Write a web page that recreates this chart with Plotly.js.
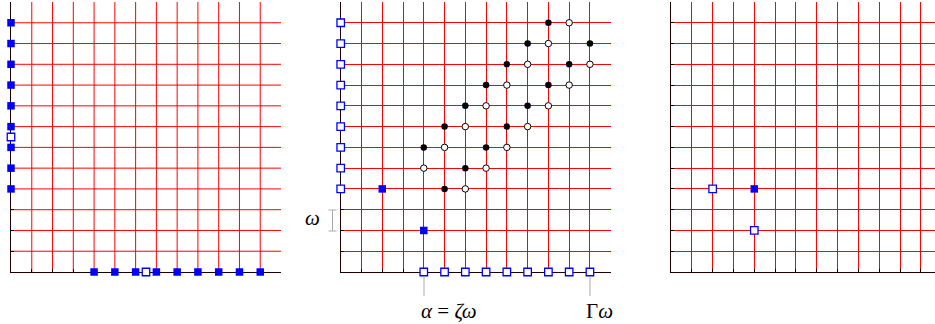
<!DOCTYPE html>
<html>
<head>
<meta charset="utf-8">
<script src="https://cdn.plot.ly/plotly-3.0.1.min.js"></script>
<style>
html,body{margin:0;padding:0;background:#fff;}
#chart{width:935px;height:324px;}
.js-plotly-plot .plotly path.xgrid, .js-plotly-plot .plotly path.ygrid {shape-rendering: geometricPrecision !important;}
</style>
</head>
<body>
<div id="chart"></div>
<script>
// ---------- data ----------
// Panel 1
const p1FilledX = [0,0,0,0,0,0,0,0,0, 4,5,6,7,8,9,10,11,12];
const p1FilledY = [12,11,10,9,8,7,6,5,4, 0,0,0,0,0,0,0,0,0];
const p1HollowX = [0, 6.5];
const p1HollowY = [6.5, 0];

// Panel 2
const p2HollowSqX = [0,0,0,0,0,0,0,0,0, 4,5,6,7,8,9,10,11,12];
const p2HollowSqY = [4,5,6,7,8,9,10,11,12, 0,0,0,0,0,0,0,0,0];
const p2FilledSqX = [2, 4];
const p2FilledSqY = [4, 2];
const p2BlackX = [10, 9, 12, 8, 11, 7, 10, 6, 9, 5, 8, 4, 7, 6, 5];
const p2BlackY = [12, 11, 11, 10, 10, 9, 9, 8, 8, 7, 7, 6, 6, 5, 4];
const p2WhiteX = [11, 10, 9, 12, 8, 11, 7, 10, 6, 9, 5, 8, 4, 7, 6];
const p2WhiteY = [12, 11, 10, 10, 9, 9, 8, 8, 7, 7, 6, 6, 5, 5, 4];

// Panel 3
const p3HollowX = [2, 4];
const p3HollowY = [4, 2];
const p3FilledX = [4];
const p3FilledY = [4];

const tickVals = [0,1,2,3,4,5,6,7,8,9,10,11,12];
const labelAlpha = '<i>α</i> = <i>ζω</i>';
const labelGamma = 'Γ<i>ω</i>';
const labelOmega = '<i>ω</i>';

// ---------- styles ----------
const W = 935, H = 324;
const px = v => v / W;
const py = v => 1 - v / H;
const BLUE = '#0000ff';
const sqFilled = {symbol: 'square', size: 7.5, color: BLUE, line: {width: 0}};
const sqHollow = {symbol: 'square', size: 7.5, color: '#ffffff', line: {width: 1.3, color: BLUE}};
const dotBlack = {symbol: 'circle', size: 6.5, color: '#000000', line: {width: 0}};
const dotWhite = {symbol: 'circle', size: 6.5, color: '#ffffff', line: {width: 1, color: '#000000'}};

function tr(x, y, marker, xa, ya) {
  return {type: 'scatter', mode: 'markers', x: x, y: y, marker: marker,
          xaxis: xa, yaxis: ya, cliponaxis: false, hoverinfo: 'skip'};
}

const data = [
  tr(p1FilledX, p1FilledY, sqFilled, 'x', 'y'),
  tr(p1HollowX, p1HollowY, sqHollow, 'x', 'y'),
  tr(p2HollowSqX, p2HollowSqY, sqHollow, 'x2', 'y2'),
  tr(p2FilledSqX, p2FilledSqY, sqFilled, 'x2', 'y2'),
  tr(p2BlackX, p2BlackY, dotBlack, 'x2', 'y2'),
  tr(p2WhiteX, p2WhiteY, dotWhite, 'x2', 'y2'),
  tr(p3HollowX, p3HollowY, sqHollow, 'x3', 'y3'),
  tr(p3FilledX, p3FilledY, sqFilled, 'x3', 'y3')
];

function ax(domain, range, anchor) {
  return {
    domain: domain, range: range, anchor: anchor,
    tickmode: 'array', tickvals: tickVals, showticklabels: false,
    ticks: 'inside', ticklen: 3, tickwidth: 1, tickcolor: '#000',
    showgrid: true, gridcolor: '#ff0000', gridwidth: 1,
    zeroline: false, showline: true, linecolor: '#1a0000', linewidth: 1,
    layer: 'below traces', fixedrange: true
  };
}

const yDom = [52 / H, 322 / H];
const textFont = {family: 'Liberation Serif, serif', size: 21, color: '#000'};
const layout = {
  width: W, height: H,
  margin: {l: 0, r: 0, t: 0, b: 0, pad: 0},
  paper_bgcolor: '#fff', plot_bgcolor: '#fff',
  showlegend: false,
  xaxis:  ax([px(11), px(281)], [0, 13], 'y'),
  yaxis:  ax(yDom, [0, 13], 'x'),
  xaxis2: ax([px(340.7), px(610.7)], [0, 13], 'y2'),
  yaxis2: ax(yDom, [0, 13], 'x2'),
  xaxis3: ax([px(671), 1], [0, 12.68], 'y3'),
  yaxis3: ax(yDom, [0, 13], 'x3'),
  shapes: [
    // omega bracket
    {type: 'line', xref: 'paper', yref: 'paper', x0: px(332.5), x1: px(332.5), y0: py(210), y1: py(231), line: {color: '#aaaaaa', width: 1}},
    {type: 'line', xref: 'paper', yref: 'paper', x0: px(328.5), x1: px(336.5), y0: py(210), y1: py(210), line: {color: '#aaaaaa', width: 1}},
    {type: 'line', xref: 'paper', yref: 'paper', x0: px(328.5), x1: px(336.5), y0: py(231), y1: py(231), line: {color: '#aaaaaa', width: 1}},
    // leader lines
    {type: 'line', xref: 'paper', yref: 'paper', x0: px(424), x1: px(424), y0: py(277), y1: py(296), line: {color: '#aaaaaa', width: 1}},
    {type: 'line', xref: 'paper', yref: 'paper', x0: px(590), x1: px(590), y0: py(277), y1: py(296), line: {color: '#aaaaaa', width: 1}}
  ],
  annotations: [
    {text: labelOmega, xref: 'paper', yref: 'paper', x: px(312), y: py(218), xanchor: 'center', yanchor: 'middle', showarrow: false, font: textFont},
    {text: labelAlpha, xref: 'paper', yref: 'paper', x: px(419), y: py(311), xanchor: 'left', yanchor: 'middle', showarrow: false, font: textFont},
    {text: labelGamma, xref: 'paper', yref: 'paper', x: px(584), y: py(311), xanchor: 'left', yanchor: 'middle', showarrow: false, font: textFont}
  ]
};

Plotly.newPlot('chart', data, layout, {staticPlot: true, displayModeBar: false}).then(function () {
  document.querySelectorAll('#chart path.xgrid, #chart path.ygrid').forEach(function (p) {
    p.style.shapeRendering = 'geometricPrecision';
  });
});
</script>
</body>
</html>
